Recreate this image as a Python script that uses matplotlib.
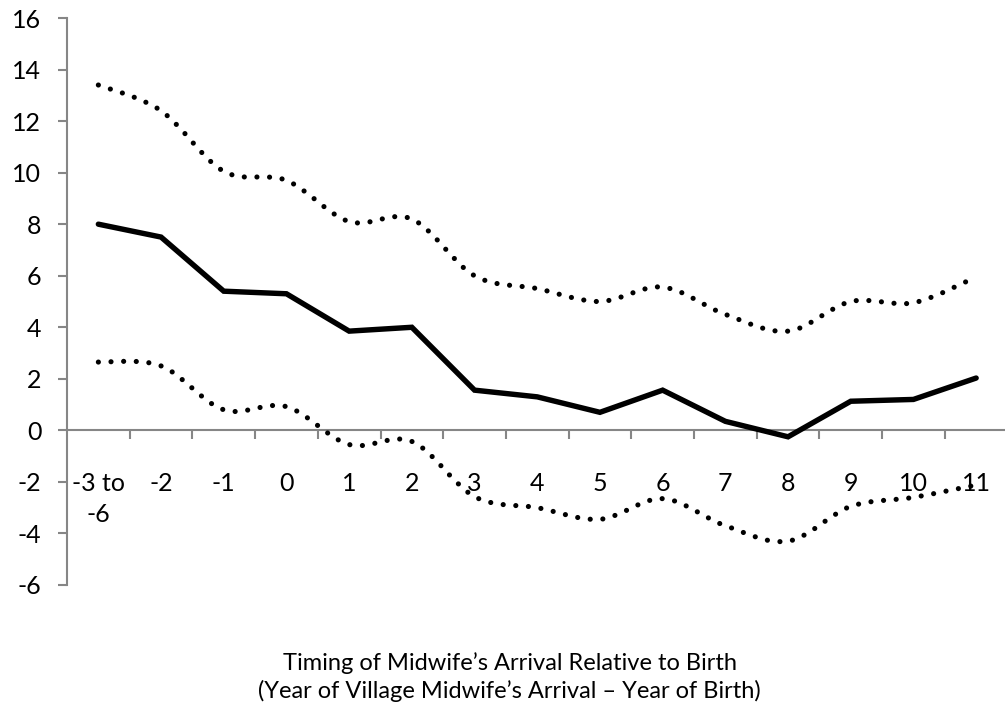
import numpy as np
import matplotlib
matplotlib.use("Agg")
import matplotlib.pyplot as plt
from matplotlib.path import Path
from matplotlib.patches import PathPatch

plt.rcParams['font.family'] = ['Lato', 'DejaVu Sans']

# Data
categories = ["-3 to\n-6", "-2", "-1", "0", "1", "2", "3", "4", "5", "6",
              "7", "8", "9", "10", "11"]
estimate = [8.0, 7.5, 5.4, 5.3, 3.85, 4.0, 1.56, 1.3, 0.7, 1.56,
            0.35, -0.25, 1.13, 1.2, 2.03]
upper_ci = [13.4, 12.4, 10.05, 9.7, 8.1, 8.2, 6.0, 5.5, 5.0, 5.56,
            4.5, 3.85, 5.0, 4.95, 5.95]
lower_ci = [2.65, 2.5, 0.8, 0.92, -0.55, -0.43, -2.57, -3.0, -3.45, -2.65,
            -3.7, -4.3, -2.95, -2.6, -2.12]
yticks = [-6, -4, -2, 0, 2, 4, 6, 8, 10, 12, 14, 16]

AXIS_GREY = "#868686"


def smooth_path(xs, ys):
    """Excel-style smoothed line: cubic Bezier segments (Catmull-Rom tangents)."""
    pts = np.column_stack([xs, ys]).astype(float)
    padded = np.vstack([pts[0], pts, pts[-1]])
    verts = [pts[0]]
    codes = [Path.MOVETO]
    for i in range(len(pts) - 1):
        p0, p1, p2, p3 = padded[i], padded[i + 1], padded[i + 2], padded[i + 3]
        c1 = p1 + (p2 - p0) / 6.0
        c2 = p2 - (p3 - p1) / 6.0
        verts += [c1, c2, p2]
        codes += [Path.CURVE4] * 3
    return Path(verts, codes)


fig = plt.figure(figsize=(10.05, 7.15), dpi=100)
ax = fig.add_axes([67 / 1005, 130 / 715, 940.5 / 1005, 567 / 715])

x = np.arange(len(categories))

ax.plot(x, estimate, color="black", lw=3.9, solid_joinstyle="miter",
        solid_capstyle="round", zorder=3)

for series in (upper_ci, lower_ci):
    patch = PathPatch(smooth_path(x, series), fill=False, edgecolor="black",
                      lw=3.7, capstyle="round", linestyle=(0, (0.01, 2.45)),
                      zorder=3)
    ax.add_patch(patch)

ax.set_xlim(-0.5, len(categories) - 0.5)
ax.set_ylim(-6, 16)

for side in ("top", "right"):
    ax.spines[side].set_visible(False)
ax.spines["left"].set_color(AXIS_GREY)
ax.spines["left"].set_linewidth(1.5)
ax.spines["bottom"].set_color(AXIS_GREY)
ax.spines["bottom"].set_linewidth(1.5)
ax.spines["bottom"].set_position(("data", 0))

ax.set_yticks(yticks)
ax.set_yticklabels([str(v) for v in yticks])
ax.tick_params(axis="y", direction="out", length=6.5, width=1.5,
               color=AXIS_GREY, pad=12, labelsize=18)

ax.set_xticks(x)
ax.set_xticklabels(categories, linespacing=1.42)
ax.set_xticks(np.arange(0.5, len(categories)), minor=True)
ax.tick_params(axis="x", which="major", length=0, pad=30, labelsize=18)
ax.tick_params(axis="x", which="minor", direction="out", length=6.5,
               width=1.5, color=AXIS_GREY)
for lbl in ax.get_xticklabels():
    lbl.set_verticalalignment("top")

fig.text(0.507, 0.053,
         "Timing of Midwife\u2019s Arrival Relative to Birth\n"
         "(Year of Village Midwife\u2019s Arrival \u2013 Year of Birth)",
         ha="center", va="center", fontsize=17, linespacing=1.3)

fig.savefig("out.png", dpi=100)
